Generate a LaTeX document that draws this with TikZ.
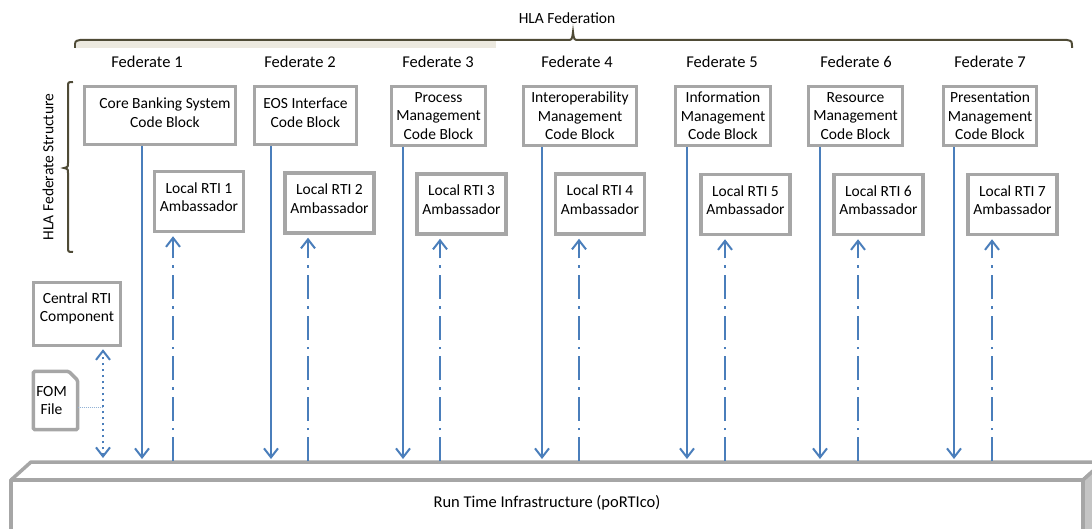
\documentclass[tikz,border=0pt]{standalone}
\usepackage{fontspec}
\setmainfont{Carlito}
\usetikzlibrary{arrows.meta,calc}
\definecolor{linkblue}{HTML}{4A7EBB}
\definecolor{framegray}{HTML}{A6A6A6}
\definecolor{sidegray}{HTML}{C4C4C4}
\definecolor{bracebrown}{HTML}{4F4B36}
\definecolor{braceband}{HTML}{ECE9DF}
\newcommand{\blkfont}{\fontsize{15.5}{18.5}\selectfont}
\newcommand{\labfont}{\fontsize{16.5}{20}\selectfont}

\begin{document}
\begin{tikzpicture}[x=1pt,y=-1pt,
  cblock/.style={draw=framegray, line width=3.5pt, fill=white, align=center,
                 font=\blkfont, inner sep=1pt, minimum height=58pt},
  amb/.style={cblock, minimum width=89pt, minimum height=60pt, text depth=9pt},
  fedlabel/.style={font=\labfont},
  barb/.tip={Straight Barb[length=9pt,width=14pt,line width=2pt]},
  feed/.style={draw=linkblue, line width=2pt, -barb},
  callback/.style={draw=linkblue, line width=2pt, -barb,
                   dash pattern=on 24pt off 7pt on 2.5pt off 7pt, shorten >=3pt},
  fomlink/.style={draw=linkblue, line width=2.5pt, barb-barb,
                  dash pattern=on 2.5pt off 3.5pt, shorten <=1pt, shorten >=2pt},
  brace/.style={draw=bracebrown, line width=2pt}
]
\useasboundingbox (0,0) rectangle (1092,529);
\clip (0,0) rectangle (1092,529);

% federation brace and label
\fill[braceband] (77,41.5) rectangle (496,48);
\draw[brace] (75,48) .. controls (75,41) .. (80,40) -- (567,40)
  .. controls (572,40) .. (573,32) .. controls (574,40) .. (579,40)
  -- (1067,40) .. controls (1072,41) .. (1072,48);
\node[font=\blkfont] (fedn) at (567,18) {HLA Federation};

% federate structure brace
\draw[brace] (73,82) .. controls (68,82) .. (68,87) -- (68,163)
  .. controls (68,167) .. (64,168) .. controls (68,169) .. (68,173)
  -- (68,247) .. controls (68,252) .. (73,252);
\node[rotate=90, font=\blkfont] (fstruct) at (48,167) {HLA Federate Structure};

% federate captions
\node[fedlabel] (f1) at (147,62) {Federate 1};
\node[fedlabel] (f2) at (300,62) {Federate 2};
\node[fedlabel] (f3) at (438,62) {Federate 3};
\node[fedlabel] (f4) at (577,62) {Federate 4};
\node[fedlabel] (f5) at (722,62) {Federate 5};
\node[fedlabel] (f6) at (856,62) {Federate 6};
\node[fedlabel] (f7) at (990,62) {Federate 7};

% code blocks
\node[cblock, minimum width=151pt, text depth=6pt] (cb1) at (160,115.5) {\hspace*{10pt}Core Banking System\\\hspace*{10pt}Code Block};
\node[cblock, minimum width=102pt, text depth=6pt] (cb2) at (305.5,115.5) {EOS Interface\\Code Block};
\node[cblock, minimum width=94pt, minimum height=59pt] (cb3) at (438.5,116) {Process\\Management\\Code Block};
\node[cblock, minimum width=113pt, minimum height=59pt] (cb4) at (580,116) {Interoperability\\Management\\Code Block};
\node[cblock, minimum width=95pt, minimum height=59pt] (cb5) at (723,116) {Information\\Management\\Code Block};
\node[cblock, minimum width=94pt, minimum height=59pt] (cb6) at (855.5,116) {Resource\\Management\\Code Block};
\node[cblock, minimum width=93pt, minimum height=59pt] (cb7) at (990,116) {Presentation\\Management\\Code Block};

% local RTI ambassadors
\node[amb] (l1) at (199,201.5) {Local RTI 1\\Ambassador};
\node[amb] (l2) at (329.5,203) {Local RTI 2\\Ambassador};
\node[amb] (l3) at (461.5,204) {Local RTI 3\\Ambassador};
\node[amb] (l4) at (600,204) {Local RTI 4\\Ambassador};
\node[amb] (l5) at (745.5,204.5) {Local RTI 5\\Ambassador};
\node[amb] (l6) at (878.5,204.5) {Local RTI 6\\Ambassador};
\node[amb] (l7) at (1012.5,204.5) {Local RTI 7\\Ambassador};

% central RTI component and FOM file
\node[cblock, minimum width=87pt, minimum height=63pt, text depth=14pt] (central) at (77,314) {Central RTI\\Component};
\node[align=center, font=\blkfont, minimum width=44pt, minimum height=58pt, inner sep=0pt] (fom) at (55.5,400.5) {\hspace*{-8pt}FOM\\\hspace*{-8pt}File};
\draw[framegray, line width=3.5pt, rounded corners=1.5pt]
  (fom.north west) -- ([xshift=-9pt]fom.north east) -- ([yshift=-9pt]fom.north east)
  -- (fom.south east) -- (fom.south west) -- cycle;

% run time infrastructure platform
\draw[framegray, line width=3.5pt, fill=white, line join=round]
  (11,480) -- (31,462) -- (1103,462) -- (1083,480) -- cycle;
\draw[framegray, line width=3.5pt, fill=sidegray, line join=round]
  (1083,480) -- (1103,462) -- (1103,545) -- (1083,545) -- cycle;
\draw[framegray, line width=3.5pt, fill=white, line join=round]
  (11,545) -- (11,480) -- (1083,480) -- (1083,545);
\node[font=\labfont] (rti) at (547,503) {Run Time Infrastructure (poRTIco)};

% end points on the platform
\coordinate (c0) at (103,459);
\foreach \i/\sx/\dx in {1/142/173, 2/271/308, 3/403/440, 4/542/579,
                        5/687/725, 6/820/858, 7/954/992} {
  \coordinate (s\i) at (\sx,459);
  \coordinate (d\i) at (\dx,461);
}

% calls from each code block into the RTI
\foreach \i in {1,...,7} {
  \draw[feed] (cb\i.south -| s\i) -- (s\i);
  \draw[callback] (d\i) -- (l\i.south -| d\i);
}

% central component link and FOM reference
\draw[fomlink] (c0) -- (central.south -| c0);
\draw[draw=linkblue!60, line width=0.8pt, dash pattern=on 1pt off 1pt]
  ([yshift=-6.5pt]fom.east) -- ([yshift=-6.5pt]fom.east -| c0);
\end{tikzpicture}
\end{document}
